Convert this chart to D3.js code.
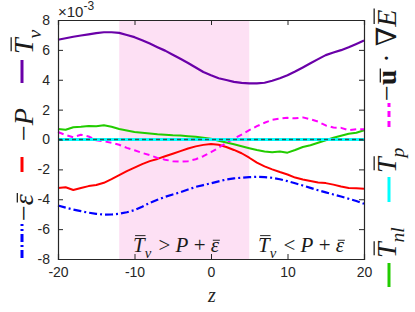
<!DOCTYPE html>
<html><head><meta charset="utf-8">
<script src="https://cdn.jsdelivr.net/npm/d3@7"></script>
<style>body{margin:0;background:#fff}svg{display:block}</style>
</head><body>
<svg id="c" width="415" height="312"></svg>
<script>
const zValues = d3.range(-20, 21, 1);
const Tv   = [6.68,6.78,6.88,6.96,7.04,7.12,7.18,7.18,7.14,7.0,6.85,6.65,6.42,6.18,5.95,5.68,5.4,5.12,4.82,4.52,4.3,4.1,3.98,3.86,3.79,3.76,3.76,3.8,3.93,4.1,4.3,4.55,4.82,5.1,5.38,5.65,5.82,5.98,6.18,6.4,6.62];
const negP = [-3.25,-3.2,-3.38,-3.25,-3.12,-3.05,-2.9,-2.65,-2.38,-2.12,-1.88,-1.65,-1.45,-1.3,-1.12,-0.95,-0.78,-0.6,-0.46,-0.36,-0.3,-0.35,-0.5,-0.7,-0.92,-1.22,-1.55,-1.8,-2.0,-2.18,-2.34,-2.55,-2.68,-2.78,-2.88,-2.92,-3.02,-3.15,-3.25,-3.26,-3.3];
const negEps = [-4.42,-4.56,-4.69,-4.8,-4.9,-4.98,-5.03,-5.02,-4.97,-4.87,-4.73,-4.5,-4.24,-4.03,-3.84,-3.68,-3.53,-3.35,-3.17,-3.05,-2.93,-2.8,-2.68,-2.6,-2.56,-2.52,-2.5,-2.52,-2.56,-2.66,-2.79,-2.93,-3.08,-3.24,-3.4,-3.54,-3.68,-3.82,-3.97,-4.12,-4.3];
const Tnl  = [0.7,0.65,0.82,0.85,0.9,0.88,0.95,0.85,0.7,0.6,0.5,0.45,0.4,0.35,0.32,0.28,0.27,0.22,0.18,0.12,0.05,-0.08,-0.2,-0.32,-0.45,-0.58,-0.7,-0.8,-0.85,-0.8,-0.88,-0.7,-0.5,-0.38,-0.22,-0.05,0.12,0.25,0.38,0.45,0.62];
const Tp   = zValues.map(() => 0);
const advE = [0.5,0.3,0.15,0.32,0.2,-0.05,-0.12,-0.22,-0.35,-0.56,-0.72,-0.9,-1.05,-1.23,-1.35,-1.45,-1.48,-1.45,-1.32,-1.12,-0.85,-0.55,-0.22,0.05,0.33,0.62,0.89,1.12,1.32,1.4,1.45,1.42,1.48,1.35,1.2,0.94,0.8,0.78,0.62,0.68,0.68];
const xTicks = [-20,-10,0,10,20];
const yTicks = [-8,-6,-4,-2,0,2,4,6,8];
const region = [-12, 5];

const svg = d3.select('#c');
const L=58, R=364, T=20, B=259;
const x = d3.scaleLinear().domain([-20,20]).range([L,R]);
const y = d3.scaleLinear().domain([-8,8]).range([B,T]);
const ax = '#262626';

svg.append('rect').attr('x',x(region[0])).attr('y',T).attr('width',x(region[1])-x(region[0])).attr('height',B-T).attr('fill','#fde0f4');

const series = [
  {v:Tv, c:'#6a00a8', w:2.2},
  {v:negP, c:'#ff0000', w:2},
  {v:negEps, c:'#0000ff', w:2.2, d:'8,3,2,3'},
  {v:Tnl, c:'#22cc00', w:2},
  {v:advE, c:'#ff00ff', w:2, d:'6,4'},
  {v:Tp, c:'#00ffff', w:3},
  {v:Tp, c:'#2a5858', w:1.3, d:'4,3'}
];
const line = d3.line().x((d,i)=>x(zValues[i])).y(d=>y(d));
const pg = svg.append('g');
series.forEach(s=>{
  pg.append('path').datum(s.v).attr('d',line).attr('fill','none').attr('stroke',s.c)
    .attr('stroke-width',s.w).attr('stroke-dasharray',s.d||null).attr('stroke-linejoin','round');
});

// axes with inward ticks
const tl = -5;
svg.append('g').attr('transform',`translate(0,${B})`).call(d3.axisBottom(x).tickValues(xTicks).tickSize(tl).tickPadding(8).tickFormat(d3.format('d')));
svg.append('g').attr('transform',`translate(0,${T})`).call(d3.axisTop(x).tickValues(xTicks).tickSize(tl).tickFormat(''));
svg.append('g').attr('transform',`translate(${L},0)`).call(d3.axisLeft(y).tickValues(yTicks).tickSize(tl).tickPadding(8).tickFormat(d3.format('d')));
svg.append('g').attr('transform',`translate(${R},0)`).call(d3.axisRight(y).tickValues(yTicks).tickSize(tl).tickFormat(''));
svg.selectAll('.domain').attr('stroke',ax).attr('stroke-width',1.2);
svg.selectAll('.tick line').attr('stroke',ax);
svg.selectAll('.tick text').attr('fill',ax).attr('font-family','Liberation Sans, Arial, sans-serif').attr('font-size',14).text(function(){return this.textContent.replace('−','-');});

// multiplier
const mt = svg.append('text').attr('x',58).attr('y',17).attr('fill',ax).attr('font-family','Liberation Sans, Arial, sans-serif').attr('font-size',15);
mt.append('tspan').text('×10');
mt.append('tspan').attr('font-size',12).attr('dy',-7).text('-3');

// x label
svg.append('text').attr('x',212).attr('y',302).attr('text-anchor','middle').attr('font-family','Liberation Serif, serif').attr('font-style','italic').attr('font-size',20).attr('fill',ax).text('z');

// math label helper
function mathText(g, parts, fs, opts={}) {
  const t = g.append('text').attr('font-family','Liberation Serif, DejaVu Serif, serif').attr('font-size',fs).attr('fill',opts.fill||'#1a1a1a').attr('text-anchor',opts.anchor||'start');
  let idx=0; const bars=[]; let cur=0;
  parts.forEach(p=>{
    const ts = t.append('tspan').text(p.t);
    if(p.it) ts.attr('font-style','italic');
    if(p.b) ts.attr('font-weight','bold');
    let dy=0;
    if(p.sub){ ts.attr('font-size',fs*0.7); dy=fs*0.3; }
    if(p.dx) ts.attr('dx',p.dx);
    ts.attr('dy',dy-cur); cur=dy;
    if(p.bar) bars.push({i:idx, n:p.t.length, low:p.low});
    idx += p.t.length;
  });
  bars.forEach(b=>{
    let x0=Infinity,x1=-Infinity;
    for(let k=b.i;k<b.i+b.n;k++){const e=t.node().getExtentOfChar(k); x0=Math.min(x0,e.x); x1=Math.max(x1,e.x+e.width);}
    const yy = b.low ? -fs*0.56 : -fs*0.78;
    const sh = fs*0.08;
    g.append('line').attr('x1',x0+sh+fs*0.02).attr('x2',x1+sh-fs*0.04).attr('y1',yy).attr('y2',yy).attr('stroke',opts.fill||'#1a1a1a').attr('stroke-width',fs*0.045);
  });
  return t;
}

// annotations
const a1 = svg.append('g').attr('transform','translate(133,252)');
mathText(a1,[{t:'T',it:true,bar:true},{t:'v',it:true,sub:true},{t:' > ',dx:2},{t:'P',it:true},{t:' + '},{t:'ε',it:true,bar:true,low:true}],21);
const a2 = svg.append('g').attr('transform','translate(258,252)');
mathText(a2,[{t:'T',it:true,bar:true},{t:'v',it:true,sub:true},{t:' < ',dx:2},{t:'P',it:true},{t:' + '},{t:'ε',it:true,bar:true,low:true}],21);

// legends (rotated)
const lfs = 28;
function legLine(cx, y0, y1, s){
  svg.append('line').attr('x1',cx).attr('x2',cx).attr('y1',y0).attr('y2',y1).attr('stroke',s.c).attr('stroke-width',3).attr('stroke-dasharray',s.d||null);
}
function legText(cx, yb, parts){
  const g = svg.append('g').attr('transform',`translate(${cx},${yb}) rotate(-90)`);
  mathText(g, parts, lfs);
}
// left
legLine(22, 258, 224, {c:'#0000ff', d:'8,3,2,3'});
legText(33, 221, [{t:'−'},{t:'ε',it:true,bar:true,low:true}]);
legLine(22, 172, 157, {c:'#ff0000'});
legText(33, 141, [{t:'−'},{t:'P',it:true}]);
legLine(22, 83, 60, {c:'#6a00a8'});
legText(33, 54, [{t:'T',it:true,bar:true},{t:'v',it:true,sub:true}]);
// right
legLine(389, 287, 263, {c:'#22cc00'});
legText(396, 258, [{t:'T',it:true,bar:true},{t:'nl',it:true,sub:true}]);
legLine(389, 202, 177, {c:'#00ffff'});
legText(396, 173, [{t:'T',it:true,bar:true},{t:'p',it:true,sub:true}]);
legLine(389, 127, 103, {c:'#ff00ff', d:'6,4'});
legText(396, 101, [{t:'−'},{t:'u',b:true,bar:true,low:true},{t:' · '},{t:'∇'},{t:'E',it:true,bar:true}]);
</script>
</body></html>
